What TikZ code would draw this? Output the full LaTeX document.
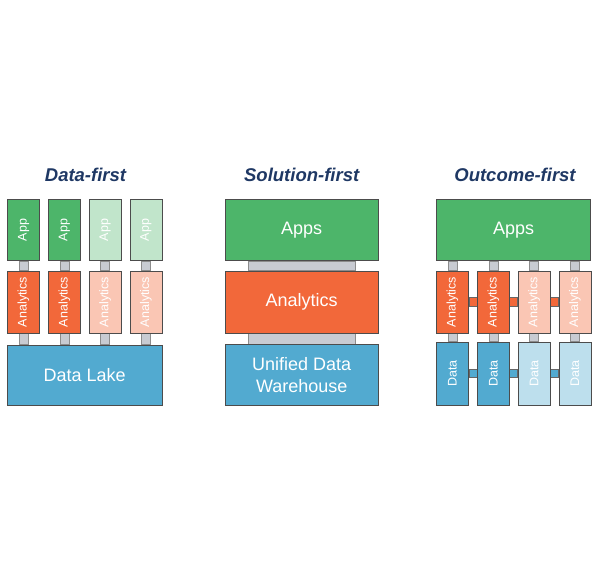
\documentclass[tikz,border=0pt]{standalone}
\usepackage{fontspec}
\setmainfont{Liberation Sans}
\usetikzlibrary{positioning, backgrounds}

\definecolor{appgreen}{RGB}{77,181,106}
\definecolor{anaorange}{RGB}{242,104,58}
\definecolor{datablue}{RGB}{82,170,208}
\definecolor{linkgray}{RGB}{200,203,210}
\definecolor{titleblue}{RGB}{31,56,100}

% rotated label for the narrow columns
\newcommand{\sidelabel}[1]{\rotatebox{90}{\fontsize{12.5}{15}\selectfont #1}}

\begin{document}
\begin{tikzpicture}[
    x=1pt, y=-1pt,
    font=\fontsize{18}{22}\selectfont,
    % Style for the blocks
    block/.style={draw=black!70, line width=0.8pt, text=white, inner sep=0pt, align=center},
    col_size/.style={minimum width=32pt, minimum height=61pt},
    wide_size/.style={minimum width=154pt, minimum height=61pt},
    app_box/.style={block, fill=appgreen},
    app_pale/.style={block, fill=appgreen!35},
    ana_box/.style={block, fill=anaorange},
    ana_pale/.style={block, fill=anaorange!38},
    data_box/.style={block, fill=datablue},
    data_pale/.style={block, fill=datablue!38},
    % Style for the small joints between blocks
    link_v/.style={draw=black!45, line width=0.6pt, fill=linkgray},
    link_orange/.style={draw=black!60, line width=0.6pt, fill=anaorange},
    link_blue/.style={draw=black!60, line width=0.6pt, fill=datablue},
    % Style for headings
    heading/.style={font=\bfseries\itshape\fontsize{18.5}{22}\selectfont, text=titleblue, anchor=base}
]
\useasboundingbox (0,0) rectangle (600,575);

%% --- PANEL 1: DATA-FIRST ---
\node[heading] (df_title) at (85.5, 181.5) {Data-first};

\node[app_box, col_size] (df_app1) at (23.5, 230) {\sidelabel{App}};
\node[app_box, col_size] (df_app2) at (64.3, 230) {\sidelabel{App}};
\node[app_pale, col_size] (df_app3) at (105.1, 230) {\sidelabel{App}};
\node[app_pale, col_size] (df_app4) at (145.9, 230) {\sidelabel{App}};

\node[ana_box, col_size, minimum height=62pt] (df_ana1) at (23.5, 302) {\sidelabel{Analytics}};
\node[ana_box, col_size, minimum height=62pt] (df_ana2) at (64.3, 302) {\sidelabel{Analytics}};
\node[ana_pale, col_size, minimum height=62pt] (df_ana3) at (105.1, 302) {\sidelabel{Analytics}};
\node[ana_pale, col_size, minimum height=62pt] (df_ana4) at (145.9, 302) {\sidelabel{Analytics}};

\node[data_box, minimum width=155pt, minimum height=60pt] (df_lake) at (84.7, 375) {Data Lake};

%% --- PANEL 2: SOLUTION-FIRST ---
\node[heading] (sf_title) at (301.7, 181.5) {Solution-first};

\node[app_box, wide_size, minimum width=153pt] (sf_apps) at (301.7, 230) {Apps};
\node[ana_box, wide_size, minimum width=153pt, minimum height=62pt] (sf_ana) at (301.7, 302) {Analytics};
\node[data_box, wide_size, minimum width=153pt] (sf_dwh) at (301.7, 374.7) {Unified Data\\Warehouse};

%% --- PANEL 3: OUTCOME-FIRST ---
\node[heading] (of_title) at (515, 181.5) {Outcome-first};

\node[app_box, wide_size] (of_apps) at (513.7, 230) {Apps};

\node[ana_box, col_size, minimum height=62pt] (of_ana1) at (452.5, 302) {\sidelabel{Analytics}};
\node[ana_box, col_size, minimum height=62pt] (of_ana2) at (493.3, 302) {\sidelabel{Analytics}};
\node[ana_pale, col_size, minimum height=62pt] (of_ana3) at (534.1, 302) {\sidelabel{Analytics}};
\node[ana_pale, col_size, minimum height=62pt] (of_ana4) at (574.9, 302) {\sidelabel{Analytics}};

\node[data_box, col_size, minimum height=63pt] (of_data1) at (452.5, 373.5) {\sidelabel{Data}};
\node[data_box, col_size, minimum height=63pt] (of_data2) at (493.3, 373.5) {\sidelabel{Data}};
\node[data_pale, col_size, minimum height=63pt] (of_data3) at (534.1, 373.5) {\sidelabel{Data}};
\node[data_pale, col_size, minimum height=63pt] (of_data4) at (574.9, 373.5) {\sidelabel{Data}};

%% --- JOINTS (behind the blocks) ---
\begin{scope}[on background layer]
    % Panel 1: columns
    \draw[link_v] ([xshift=-4.5pt]df_app1.south) rectangle ([xshift=4.5pt]df_ana1.north);
    \draw[link_v] ([xshift=-4.5pt]df_app2.south) rectangle ([xshift=4.5pt]df_ana2.north);
    \draw[link_v] ([xshift=-4.5pt]df_app3.south) rectangle ([xshift=4.5pt]df_ana3.north);
    \draw[link_v] ([xshift=-4.5pt]df_app4.south) rectangle ([xshift=4.5pt]df_ana4.north);
    \draw[link_v] ([xshift=-4.5pt]df_ana1.south) rectangle ([xshift=4.5pt]df_ana1.south |- df_lake.north);
    \draw[link_v] ([xshift=-4.5pt]df_ana2.south) rectangle ([xshift=4.5pt]df_ana2.south |- df_lake.north);
    \draw[link_v] ([xshift=-4.5pt]df_ana3.south) rectangle ([xshift=4.5pt]df_ana3.south |- df_lake.north);
    \draw[link_v] ([xshift=-4.5pt]df_ana4.south) rectangle ([xshift=4.5pt]df_ana4.south |- df_lake.north);

    % Panel 2: wide bars
    \draw[link_v] ([xshift=-53.5pt]sf_apps.south) rectangle ([xshift=53.5pt]sf_ana.north);
    \draw[link_v] ([xshift=-53.5pt]sf_ana.south) rectangle ([xshift=53.5pt]sf_dwh.north);

    % Panel 3: columns
    \draw[link_v] ([xshift=-4.5pt]of_ana1.north |- of_apps.south) rectangle ([xshift=4.5pt]of_ana1.north);
    \draw[link_v] ([xshift=-4.5pt]of_ana2.north |- of_apps.south) rectangle ([xshift=4.5pt]of_ana2.north);
    \draw[link_v] ([xshift=-4.5pt]of_ana3.north |- of_apps.south) rectangle ([xshift=4.5pt]of_ana3.north);
    \draw[link_v] ([xshift=-4.5pt]of_ana4.north |- of_apps.south) rectangle ([xshift=4.5pt]of_ana4.north);
    \draw[link_v] ([xshift=-4.5pt]of_ana1.south) rectangle ([xshift=4.5pt]of_data1.north);
    \draw[link_v] ([xshift=-4.5pt]of_ana2.south) rectangle ([xshift=4.5pt]of_data2.north);
    \draw[link_v] ([xshift=-4.5pt]of_ana3.south) rectangle ([xshift=4.5pt]of_data3.north);
    \draw[link_v] ([xshift=-4.5pt]of_ana4.south) rectangle ([xshift=4.5pt]of_data4.north);

    % Panel 3: side joints
    \draw[link_orange] ([yshift=4.25pt]of_ana1.east) rectangle ([yshift=-4.25pt]of_ana2.west);
    \draw[link_orange] ([yshift=4.25pt]of_ana2.east) rectangle ([yshift=-4.25pt]of_ana3.west);
    \draw[link_orange] ([yshift=4.25pt]of_ana3.east) rectangle ([yshift=-4.25pt]of_ana4.west);
    \draw[link_blue] ([yshift=4.25pt]of_data1.east) rectangle ([yshift=-4.25pt]of_data2.west);
    \draw[link_blue] ([yshift=4.25pt]of_data2.east) rectangle ([yshift=-4.25pt]of_data3.west);
    \draw[link_blue] ([yshift=4.25pt]of_data3.east) rectangle ([yshift=-4.25pt]of_data4.west);
\end{scope}

\end{tikzpicture}
\end{document}
